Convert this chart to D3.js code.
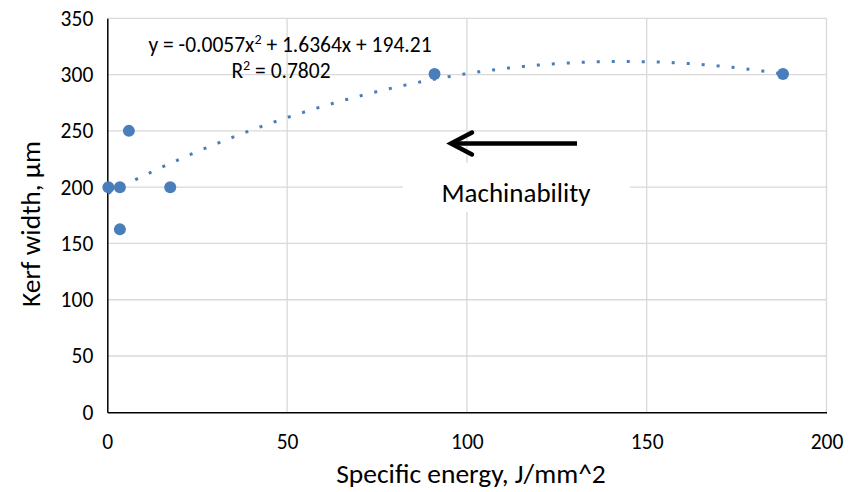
<!DOCTYPE html>
<html>
<head>
<meta charset="utf-8">
<script src="https://cdn.jsdelivr.net/npm/d3@7"></script>
<style>
  body { margin: 0; background: #fff; }
  svg text { font-family: Carlito, Lato, "Open Sans", sans-serif; fill: #000; }
</style>
</head>
<body>
<svg id="chart" width="856" height="492"></svg>
<script>
// specific energy (J/mm^2) vs kerf width (um)
const energy = [0.3, 3.5, 3.5, 6.0, 17.5, 91.0, 187.9]
const kerf = [200, 200, 162.5, 250, 200, 300.5, 300.5]

// poly trendline coefficients: a*x^2 + b*x + c
const trendCoef = [-0.0057, 1.6364, 194.21]
const trendLabel = ['y = -0.0057x', '2', ' + 1.6364x + 194.21']
const r2Label = ['R', '2', ' = 0.7802']

const xTicks = [0, 50, 100, 150, 200]
const yTicks = [0, 50, 100, 150, 200, 250, 300, 350]

const blue = '#4a7ebb'
const grid = '#d9d9d9'

let svg = d3.select('#chart')
let x = d3.scaleLinear().domain([0, 200]).range([107.3, 826.5])
let y = d3.scaleLinear().domain([0, 350]).range([412.3, 18.3])

// gridlines
let gridG = svg.append('g')
gridG.selectAll('line.h').data(yTicks.slice(1)).enter().append('line')
    .attr('x1', x(0)).attr('x2', x(200))
    .attr('y1', d => y(d)).attr('y2', d => y(d))
    .attr('stroke', grid).attr('stroke-width', 1.3)
gridG.selectAll('line.v').data(xTicks.slice(1)).enter().append('line')
    .attr('x1', d => x(d)).attr('x2', d => x(d))
    .attr('y1', y(0)).attr('y2', y(350))
    .attr('stroke', grid).attr('stroke-width', 1.3)

// white box behind the annotation text (hides gridlines)
svg.append('rect')
    .attr('x', 403).attr('y', 163).attr('width', 227).attr('height', 49)
    .attr('fill', '#fff')

// axes
let xAxis = d3.axisBottom(x).tickValues(xTicks).tickSize(0).tickPadding(21)
let yAxis = d3.axisLeft(y).tickValues(yTicks).tickSize(0).tickPadding(14)

let gx = svg.append('g').attr('transform', `translate(0,${y(0)})`).call(xAxis)
let gy = svg.append('g').attr('transform', `translate(${x(0)},0)`).call(yAxis)
;[gx, gy].forEach(g => {
    g.select('.domain').attr('stroke', '#000').attr('stroke-width', 1.5)
    g.selectAll('text').attr('font-size', 21.5).attr('fill', '#000')
        .style('font-family', 'Carlito, Lato, "Open Sans", sans-serif')
})

// trendline
let tx = d3.range(d3.min(energy), d3.max(energy) + 0.01, 0.5)
let trendPts = tx.map(v => [v, trendCoef[0] * v * v + trendCoef[1] * v + trendCoef[2]])
let lineGen = d3.line().x(p => x(p[0])).y(p => y(p[1])).curve(d3.curveBasis)
svg.append('path')
    .attr('d', lineGen(trendPts))
    .attr('fill', 'none')
    .attr('stroke', blue)
    .attr('stroke-width', 3)
    .attr('stroke-dasharray', '3 12')

// markers
svg.append('g').selectAll('circle').data(energy).enter().append('circle')
    .attr('cx', d => x(d))
    .attr('cy', (d, i) => y(kerf[i]))
    .attr('r', 6)
    .attr('fill', blue)

// trendline label
function supText(parts, cx, cy) {
    let t = svg.append('text')
        .attr('x', cx).attr('y', cy)
        .attr('text-anchor', 'middle')
        .attr('font-size', 21.5)
    t.append('tspan').text(parts[0])
    t.append('tspan').text(parts[1]).attr('font-size', 14).attr('dy', -8)
    t.append('tspan').text(parts[2]).attr('dy', 8)
}
supText(trendLabel, 290, 52)
supText(r2Label, 281, 78)

// annotation arrow
svg.append('line')
    .attr('x1', 577).attr('y1', 143.5).attr('x2', 452).attr('y2', 143.5)
    .attr('stroke', '#000').attr('stroke-width', 4.5)
svg.append('path')
    .attr('d', 'M472,132.5 L451,143.5 L472,154.5')
    .attr('fill', 'none').attr('stroke', '#000').attr('stroke-width', 4.5)
    .attr('stroke-linecap', 'round').attr('stroke-linejoin', 'miter')

svg.append('text')
    .attr('x', 516).attr('y', 202)
    .attr('text-anchor', 'middle')
    .attr('font-size', 27)
    .text('Machinability')

// axis titles
svg.append('text')
    .attr('x', 471).attr('y', 483)
    .attr('text-anchor', 'middle')
    .attr('font-size', 27.5)
    .text('Specific energy, J/mm^2')
svg.append('text')
    .attr('transform', 'translate(40,224) rotate(-90)')
    .attr('text-anchor', 'middle')
    .attr('font-size', 27.5)
    .text('Kerf width, µm')
</script>
</body>
</html>
